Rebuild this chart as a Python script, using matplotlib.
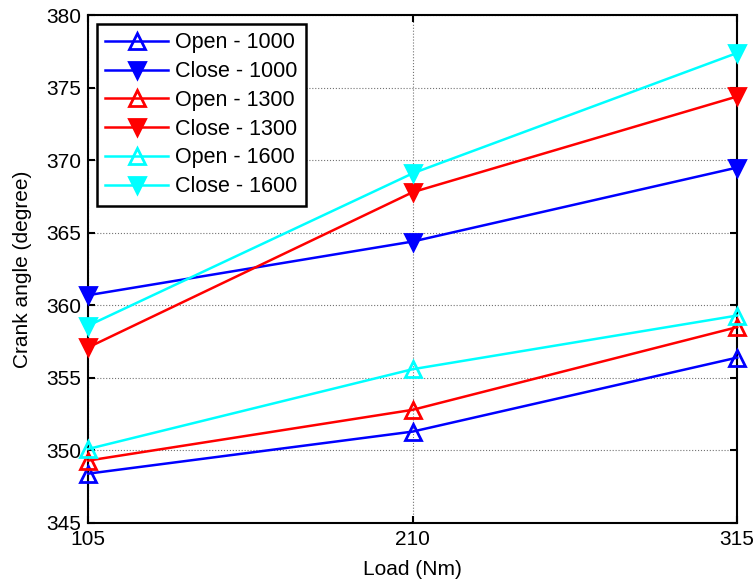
import matplotlib.pyplot as plt
import numpy as np

plt.rcParams['font.family'] = ['Liberation Sans', 'DejaVu Sans']

load = [105, 210, 315]
open_1000 = [348.4, 351.3, 356.4]
close_1000 = [360.7, 364.4, 369.5]
open_1300 = [349.3, 352.8, 358.5]
close_1300 = [357.1, 367.8, 374.4]
open_1600 = [350.1, 355.6, 359.3]
close_1600 = [358.6, 369.1, 377.4]

fig = plt.figure(figsize=(7.53, 5.85), dpi=100)
ax = fig.add_axes([0.117, 0.106, 0.862, 0.868])

blue, red, cyan = '#0000FF', '#FF0000', '#00FFFF'
series = [
    (open_1000, blue, '^', 'none', 'Open - 1000'),
    (close_1000, blue, 'v', blue, 'Close - 1000'),
    (open_1300, red, '^', 'none', 'Open - 1300'),
    (close_1300, red, 'v', red, 'Close - 1300'),
    (open_1600, cyan, '^', 'none', 'Open - 1600'),
    (close_1600, cyan, 'v', cyan, 'Close - 1600'),
]
for vals, col, mk, fc, lab in series:
    ax.plot(load, vals, color=col, marker=mk, markerfacecolor=fc,
            markeredgecolor=col, markersize=12, markeredgewidth=2,
            linewidth=1.8, label=lab, clip_on=False, zorder=3)

ax.set_xlim(105, 315)
ax.set_ylim(345, 380)
ax.set_xticks(load)
ax.set_yticks(np.arange(345, 381, 5))
ax.grid(True, color='0.45', linestyle=':', linewidth=0.8)
ax.tick_params(direction='in', top=True, right=True, labelsize=15, length=5, width=1.5, pad=5)
for s in ax.spines.values():
    s.set_linewidth(1.5)
ax.set_xlabel('Load (Nm)', fontsize=15, labelpad=8)
ax.set_ylabel('Crank angle (degree)', fontsize=15, labelpad=10)

leg = ax.legend(loc='upper left', fontsize=15.5, handlelength=2.9, labelspacing=0.36,
                fancybox=False, framealpha=1, edgecolor='k', borderpad=0.4,
                borderaxespad=0.4, handletextpad=0.35)
leg.get_frame().set_linewidth(1.8)
leg.set_zorder(5)

fig.savefig('out.png', dpi=100)
